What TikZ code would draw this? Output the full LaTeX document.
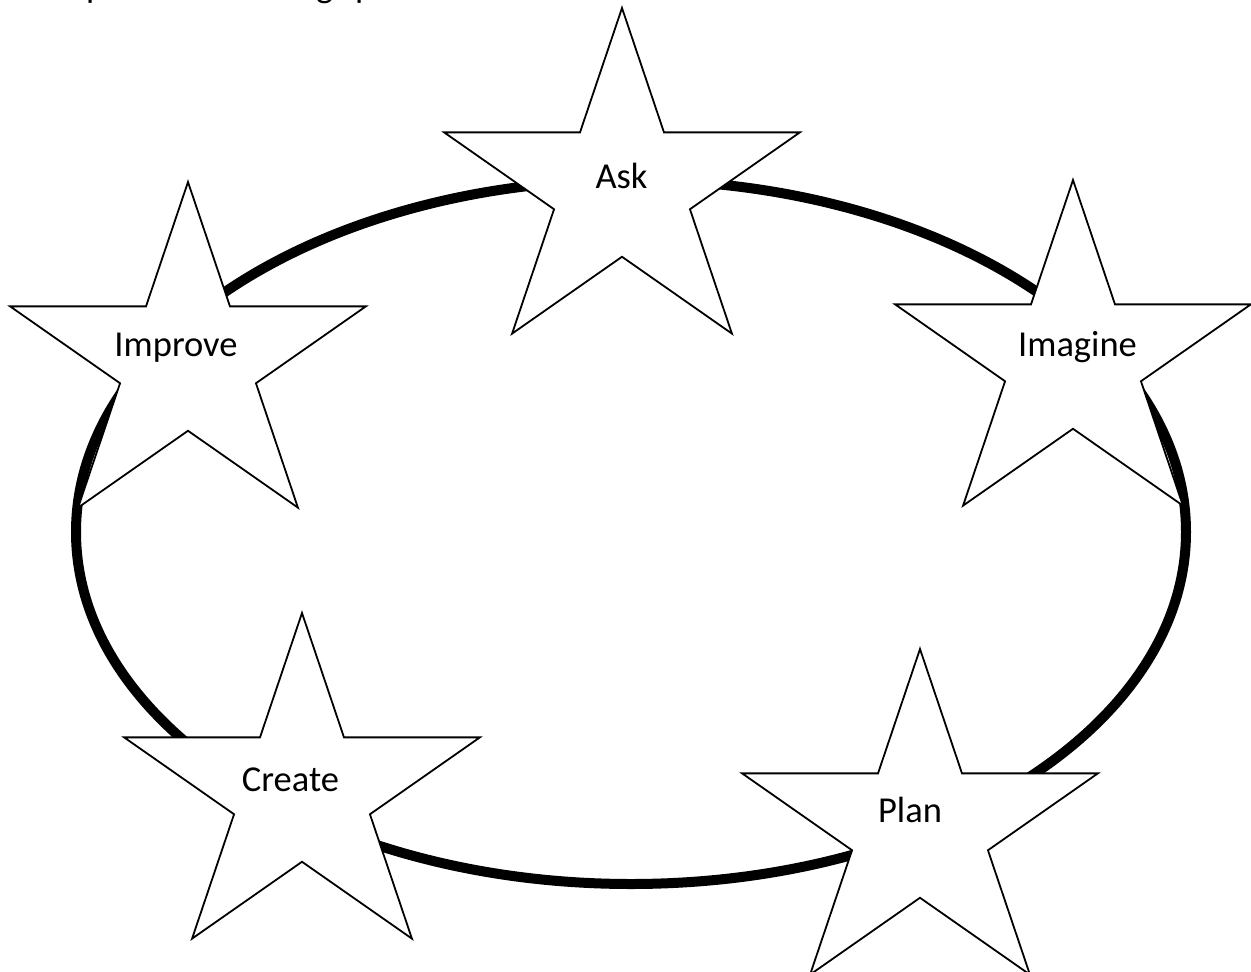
\documentclass[tikz,border=0pt]{standalone}
\usepackage{fontspec}
\setmainfont{Carlito}
\usetikzlibrary{shapes.geometric}
\begin{document}
\begin{tikzpicture}[x=1pt,y=-1pt,
  starbox/.style={star, star points=5, star point ratio=2.618, minimum size=360pt,
    inner sep=0pt, outer sep=0pt, draw=black, line width=1.8pt, fill=white, xscale=1.039},
  lbl/.style={font=\fontsize{36.5}{44}\selectfont, anchor=base, inner sep=0pt},
  ring/.style={ellipse, draw=black, line width=10pt, minimum width=1110pt,
    minimum height=704pt, inner sep=0pt, outer sep=0pt}]
\useasboundingbox (0,0) rectangle (1251,972);
\clip (0,0) rectangle (1251,972);
% cut-off heading fragments
\node[lbl, anchor=base west] (frag1) at (86,-2.5) {p};
\node[lbl, anchor=base west] (frag2) at (316,-2.5) {g};
\node[lbl, anchor=base west] (frag3) at (355,-2.5) {p};
% loop
\node[ring] (loop) at (631,532) {};
% stars
\node[starbox] (ask) at (622,188) {};
\node[starbox] (improve) at (188,362) {};
\node[starbox] (imagine) at (1073,360) {};
\node[starbox] (create) at (302,793) {};
\node[starbox] (plan) at (920,829) {};
% labels
\node[lbl] (askT) at (621.5,188) {Ask};
\node[lbl] (improveT) at (176,356) {Improve};
\node[lbl] (imagineT) at (1077.5,356) {Imagine};
\node[lbl] (createT) at (290.5,791) {Create};
\node[lbl] (planT) at (910,822) {Plan};
\end{tikzpicture}
\end{document}
